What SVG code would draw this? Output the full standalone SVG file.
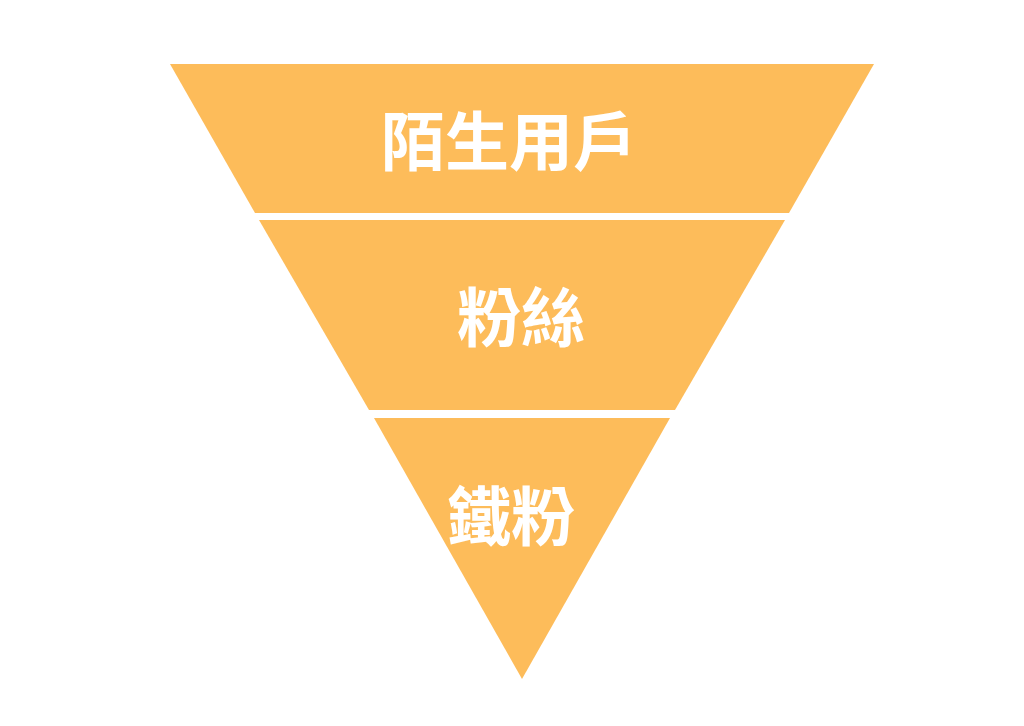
<svg xmlns="http://www.w3.org/2000/svg" width="1024" height="726" viewBox="0 0 1024 726">
<style>
.band{fill:#FDBC5A;}
.lbl{fill:#FFFFFF;font-family:"Noto Sans CJK TC","Noto Sans CJK SC",sans-serif;font-weight:700;font-size:64px;text-anchor:middle;}
</style>
<rect width="1024" height="726" fill="#FFFFFF"/>
<g id="node-strangers">
<polygon class="band" points="170,64 874,64 789,213 255,213"/>
<text class="lbl" x="509" y="165">陌生用戶</text>
</g>
<g id="node-fans">
<polygon class="band" points="259,220 785,220 675,410 369,410"/>
<text class="lbl" x="521" y="341">粉絲</text>
</g>
<g id="node-loyal">
<polygon class="band" points="374,418 670,418 522,679"/>
<text class="lbl" x="511" y="540">鐵粉</text>
</g>
<g id="connectors"></g>
</svg>
